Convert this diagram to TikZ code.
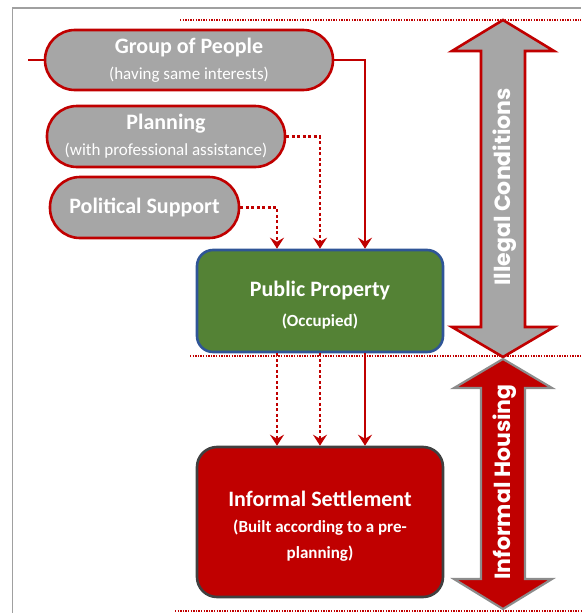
\documentclass[tikz,border=0pt]{standalone}
\usepackage{fontspec}
\setmainfont{Carlito}
\newfontfamily\arrowfont{Poppins}
\usetikzlibrary{arrows.meta,calc}
\definecolor{dred}{HTML}{C00000}
\definecolor{pillgray}{HTML}{A6A6A6}
\definecolor{pgreen}{HTML}{548235}
\definecolor{pblue}{HTML}{2F5597}
\definecolor{frame}{HTML}{A0A0A0}
\definecolor{isborder}{HTML}{404040}
\definecolor{ihborder}{HTML}{8C8C8C}
\tikzset{
  pill/.style={draw=dred, line width=2.6pt, fill=pillgray, text=white, align=center,
    inner sep=0pt, minimum height=60pt, font=\fontsize{17}{26}\selectfont},
  mainbox/.style={line width=2.6pt, text=white, align=center, inner sep=0pt, font=\bfseries\fontsize{17}{26}\selectfont},
  conn/.style={draw=dred, line width=2.4pt, -{Stealth[length=11pt,width=14pt,inset=4pt]}},
  dconn/.style={conn, dash pattern=on 3pt off 2.5pt},
  sepline/.style={draw=dred, line width=1.4pt, dash pattern=on 1.4pt off 1.2pt},
  arrowtext/.style={text=white, rotate=90, font=\arrowfont\bfseries\fontsize{22}{24}\selectfont}
}
\begin{document}
\begin{tikzpicture}[x=1pt,y=-1pt]
\useasboundingbox (0,0) rectangle (581,613);
% frame
\draw[frame, line width=1.8pt] (12.5,613) -- (12.5,8) -- (581,8);
% separator lines
\draw[sepline] (180,20) -- (581,20);
\draw[sepline] (190,356) -- (581,356);
\draw[sepline] (175,611) -- (581,611);
% pills
\node[pill, minimum width=288pt, rounded corners=30pt] (group) at (189,60)
  {{\fontsize{22}{26}\selectfont\bfseries Group of People}\\(having same interests)};
\node[pill, minimum width=238pt, rounded corners=30pt, minimum height=61pt] (plan) at (166,136.5)
  {{\fontsize{22}{26}\selectfont\bfseries Planning}\\(with professional assistance)};
\node[pill, minimum width=189pt, rounded corners=30pt, minimum height=61pt] (pol) at (144.5,207.5)
  {{\fontsize{22}{26}\selectfont\bfseries Political Support}};
% main boxes
\node[mainbox, draw=pblue, fill=pgreen, minimum width=246pt, minimum height=102pt, rounded corners=16pt,
  font=\bfseries\fontsize{17}{30}\selectfont] (pp) at (320,301)
  {\rule{0pt}{24pt}{\fontsize{22}{26}\selectfont Public Property}\\(Occupied)};
\node[mainbox, draw=isborder, fill=dred, minimum width=246pt, minimum height=150pt, rounded corners=20pt] (is) at (320,522)
  {\rule{0pt}{24pt}{\fontsize{22}{26}\selectfont Informal Settlement}\\(Built according to a pre-\\planning)};
% connectors
\coordinate (gstart) at (28,60);
\draw[draw=dred, line width=2.6pt] (gstart) -- (group.west);
\draw[conn] (group.east) -| ([xshift=45pt]pp.north);
\draw[dconn] (plan.east) -| (pp.north);
\draw[dconn] (pol.east) -| ([xshift=-43pt]pp.north);
\draw[dconn] ([xshift=-43pt]pp.south) -- ([xshift=-43pt]is.north);
\draw[dconn] (pp.south) -- (is.north);
\draw[conn] ([xshift=45pt]pp.south) -- ([xshift=45pt]is.north);
% double arrows
\draw[draw=dred, fill=pillgray, line width=2.6pt, line join=miter]
  (503,20) -- (554,51) -- (525,51) -- (525,327) -- (554,327) -- (503,357)
  -- (452,327) -- (481,327) -- (481,51) -- (452,51) -- cycle;
\node[arrowtext] (ill) at (505,187) {Illegal Conditions};
\draw[draw=ihborder, fill=dred, line width=2.2pt, line join=miter]
  (503,359) -- (552,388) -- (525,388) -- (525,579) -- (552,579) -- (503,609)
  -- (454,579) -- (481,579) -- (481,388) -- (454,388) -- cycle;
\node[arrowtext] (ih) at (505,482) {Informal Housing};
\end{tikzpicture}
\end{document}
